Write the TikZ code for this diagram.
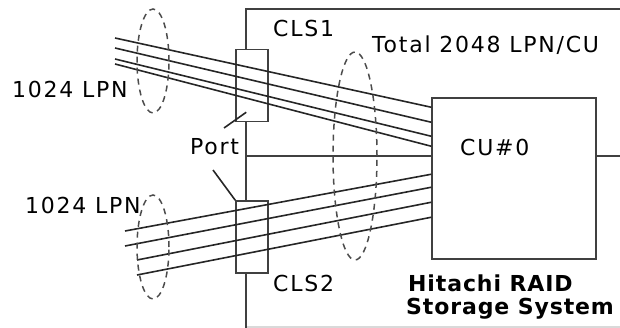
\documentclass[tikz,border=0pt]{standalone}
\usepackage{fontspec}
\setmainfont{DejaVu Sans}[LetterSpace=8]
\usetikzlibrary{shapes.geometric,calc,positioning}

\begin{document}
\begin{tikzpicture}[x=1pt, y=-1pt,
  txt/.style={font=\fontsize{22}{24}\selectfont, inner sep=0pt, anchor=base west},
  btxt/.style={txt, font=\fontsize{22}{24}\selectfont\bfseries\addfontfeature{LetterSpace=4}},
  portbox/.style={draw=black!75, line width=1.5pt, fill=white, minimum width=32pt, minimum height=72pt, inner sep=0pt},
  cubox/.style={draw=black!75, line width=1.5pt, fill=white, minimum width=164pt, minimum height=161pt, inner sep=0pt},
  lpn/.style={line width=1.6pt, black!85},
  grp/.style={ellipse, draw=black!70, dashed, dash pattern=on 6pt off 5pt, line width=1.5pt, inner sep=0pt},
  wall/.style={draw=black!75, line width=1.5pt}
]
\useasboundingbox (0,0) rectangle (620,328);

% storage system frame
\draw[wall] (630,9) -- (246,9) -- (246,338);
\draw[wall, black!15] (247,327) -- (630,327);
\draw[wall] (246,156) -- (620,156);

\node[cubox] (cu) at (514,178.5) {};
\node[portbox] (cls1) at (252,85.5) {};
\node[portbox] (cls2) at (252,237) {};

% LPN paths
\foreach \i/\y/\sx/\e in {1/38/115/10, 2/48/115/25, 3/59/115/39, 4/64/115/49}
  \draw[lpn] (\sx,\y) coordinate (u\i) -- ($(cu.north west)+(0,\e)$);
\foreach \i/\y/\sx/\e in {1/231/125/77, 2/246/125/90, 3/260/137/105, 4/275/137/120}
  \draw[lpn] (\sx,\y) coordinate (d\i) -- ($(cu.north west)+(0,\e)$);

\node[grp, minimum width=32pt, minimum height=104pt] (g1) at (153,61) {};
\node[grp, minimum width=32pt, minimum height=104pt] (g2) at (153,247) {};
\node[grp, minimum width=44pt, minimum height=208pt] (gall) at (355,156) {};

% labels
\node[txt] (cls1lbl) at (273,37) {CLS1};
\node[txt] (cls2lbl) at (273,291) {CLS2};
\node[txt] (total) at (372,53) {Total 2048 LPN/CU};
\node[txt] (lpn1) at (12,98) {1024 LPN};
\node[txt] (lpn2) at (25,214) {1024 LPN};
\node[txt] (port) at (190,155) {Port};
\node[txt] (culbl) at (460,156) {CU\#0};
\node[btxt] (sys1) at (408,291) {Hitachi RAID};
\node[btxt] (sys2) at (406,314) {Storage System};

\coordinate (p1) at (224,128);
\coordinate (p2) at (213,170);
\draw[lpn] (p1) -- ($(cls1.south west)+(11,-10)$);
\draw[lpn] (p2) -- (cls2.north west);
\end{tikzpicture}
\end{document}
